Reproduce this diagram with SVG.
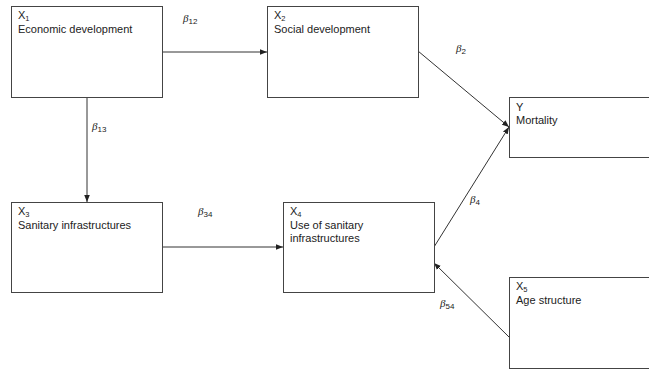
<svg xmlns="http://www.w3.org/2000/svg" width="649" height="370" viewBox="0 0 649 370">
<style>
.box{fill:#fff;stroke:#444;stroke-width:1}
.t{font-family:"Liberation Sans",Arial,sans-serif;font-size:11px;fill:#222}
.s{font-size:7.5px}
.b{font-family:"Liberation Serif","Times New Roman",serif;font-style:italic;font-size:11px;fill:#222}
.bs{font-family:"Liberation Sans",Arial,sans-serif;font-style:normal;font-size:8px}
.c{stroke:#333;stroke-width:1;fill:none;marker-end:url(#ah)}
</style>
<defs>
<marker id="ah" viewBox="0 0 10 10" refX="10" refY="5" markerWidth="7" markerHeight="7" orient="auto" markerUnits="userSpaceOnUse">
<path d="M0,1 L10,5 L0,9 z" fill="#222"/>
</marker>
</defs>
<rect width="649" height="370" fill="#fff"/>
<g id="connectors">
<line class="c" x1="162" y1="52" x2="267" y2="52"/>
<line class="c" x1="87" y1="97" x2="87" y2="202"/>
<line class="c" x1="418" y1="51" x2="509" y2="127"/>
<line class="c" x1="434" y1="247" x2="509" y2="127"/>
<line class="c" x1="162" y1="247" x2="283" y2="247"/>
<line class="c" x1="509" y1="337" x2="434" y2="263"/>
<text class="b" x="183" y="22">β<tspan class="bs" dy="2">12</tspan></text>
<text class="b" x="92" y="130">β<tspan class="bs" dy="2">13</tspan></text>
<text class="b" x="456" y="52">β<tspan class="bs" dy="2">2</tspan></text>
<text class="b" x="198" y="215">β<tspan class="bs" dy="2">34</tspan></text>
<text class="b" x="470" y="203">β<tspan class="bs" dy="2">4</tspan></text>
<text class="b" x="440" y="307">β<tspan class="bs" dy="2">54</tspan></text>
</g>
<g id="X1">
<rect class="box" x="11.5" y="6.5" width="151" height="91"/>
<text class="t" x="18" y="19">X<tspan class="s" dy="2">1</tspan></text>
<text class="t" x="18" y="33">Economic development</text>
</g>
<g id="X2">
<rect class="box" x="267.5" y="6.5" width="151" height="91"/>
<text class="t" x="274" y="19">X<tspan class="s" dy="2">2</tspan></text>
<text class="t" x="274" y="33">Social development</text>
</g>
<g id="Y">
<rect class="box" x="509.5" y="97.5" width="150" height="60"/>
<text class="t" x="516" y="111">Y</text>
<text class="t" x="516" y="124">Mortality</text>
</g>
<g id="X3">
<rect class="box" x="11.5" y="202.5" width="151" height="90"/>
<text class="t" x="18" y="215">X<tspan class="s" dy="2">3</tspan></text>
<text class="t" x="18" y="229">Sanitary infrastructures</text>
</g>
<g id="X4">
<rect class="box" x="283.5" y="202.5" width="151" height="90"/>
<text class="t" x="290" y="215">X<tspan class="s" dy="2">4</tspan></text>
<text class="t" x="290" y="229">Use of sanitary</text>
<text class="t" x="290" y="242">infrastructures</text>
</g>
<g id="X5">
<rect class="box" x="509.5" y="277.5" width="150" height="91"/>
<text class="t" x="516" y="290">X<tspan class="s" dy="2">5</tspan></text>
<text class="t" x="516" y="304">Age structure</text>
</g>
</svg>
